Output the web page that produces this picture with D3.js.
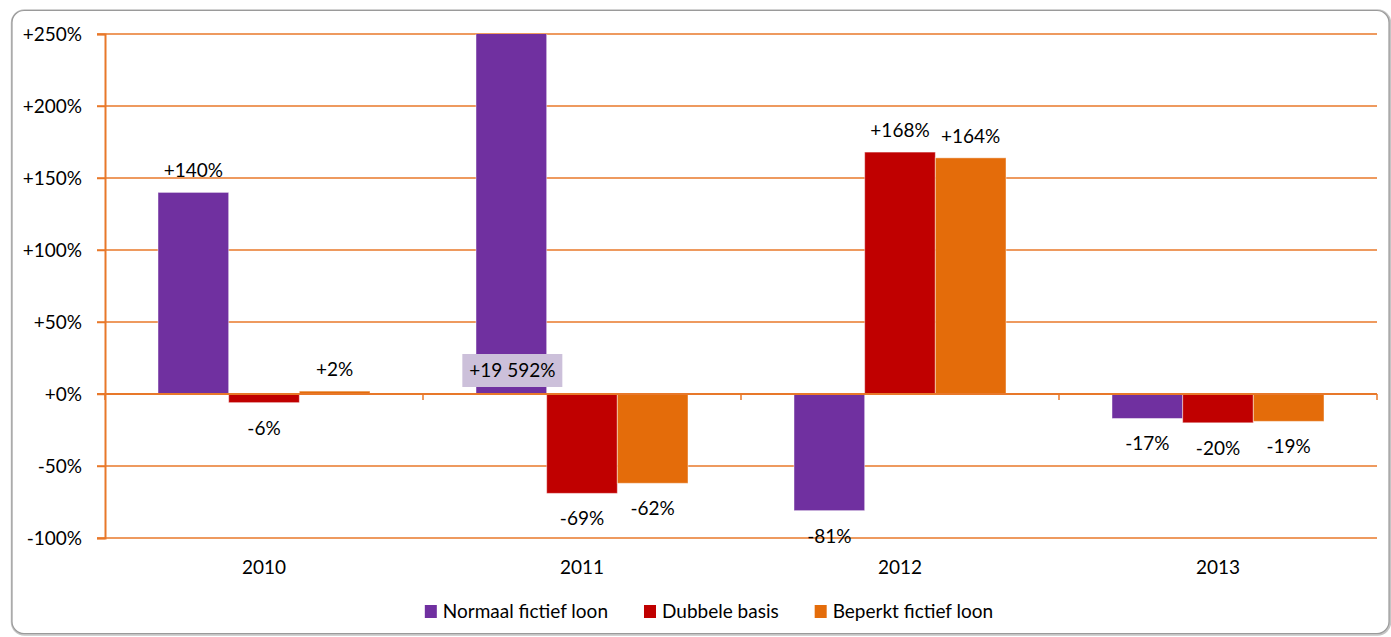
<!DOCTYPE html>
<html>
  <head>
    <style>
      body {
        margin: 0;
        background: #ffffff;
        font-family: "Lato", "Open Sans", sans-serif;
      }
    </style>
  </head>
<body>
  <div id="chart"></div>

  <script src="https://d3js.org/d3.v7.min.js"></script>
  <script>
    // values (fractions, 1 = 100%)
    var years = ["2010", "2011", "2012", "2013"];
    var seriesNames = ["Normaal fictief loon", "Dubbele basis", "Beperkt fictief loon"];
    var normaal = [1.40, 195.92, -0.81, -0.17];
    var dubbele = [-0.06, -0.69, 1.68, -0.20];
    var beperkt = [0.02, -0.62, 1.64, -0.19];
    var colors = ["#7030A0", "#C00000", "#E46C0A"];
    var yTicks = [-1, -0.5, 0, 0.5, 1, 1.5, 2, 2.5];

    var allSeries = [normaal, dubbele, beperkt];

    var W = 1391, H = 637;
    var margin = {top: 34, right: 14, bottom: 99, left: 105};
    var fs = "19px";

    var svg = d3.select("#chart")
      .append("svg")
      .attr("width", W)
      .attr("height", H);

    // frame
    svg.append("rect")
      .attr("x", 12.5).attr("y", 11)
      .attr("width", 1377).attr("height", 623)
      .attr("rx", 12)
      .style("fill", "none")
      .style("stroke", "#c4c4c4")
      .style("stroke-width", 3.5);
    svg.append("rect")
      .attr("x", 12).attr("y", 10.5)
      .attr("width", 1377).attr("height", 623)
      .attr("rx", 12)
      .style("fill", "#ffffff")
      .style("stroke", "#9a9a9a")
      .style("stroke-width", 1.2);

    var x0 = d3.scaleBand()
      .domain(years)
      .range([margin.left, W - margin.right])
      .padding(0);

    var x1 = d3.scaleBand()
      .domain(d3.range(seriesNames.length))
      .range([0, x0.bandwidth()])
      .paddingInner(0)
      .paddingOuter(0.75);

    var y = d3.scaleLinear()
      .domain([-1, 2.5])
      .range([H - margin.bottom, margin.top]);

    var fmt = function(v) {
      var p = Math.round(v * 100);
      var s = Math.abs(p) >= 1000 ? d3.format(",")(Math.abs(p)).replace(",", " ") : String(Math.abs(p));
      return (p < 0 ? "-" : "+") + s + "%";
    };

    var gridColor = "#E8782A";

    // gridlines
    svg.append("g")
      .selectAll("line")
      .data(yTicks)
      .enter()
      .append("line")
        .attr("x1", margin.left - 8)
        .attr("x2", W - margin.right)
        .attr("y1", function(d) { return y(d); })
        .attr("y2", function(d) { return y(d); })
        .style("stroke", gridColor)
        .style("stroke-width", 1.5);

    // y axis
    var yAxis = svg.append("g")
      .attr("transform", "translate(" + margin.left + ",0)")
      .call(d3.axisLeft(y)
        .tickValues(yTicks)
        .tickSize(8)
        .tickPadding(15)
        .tickFormat(function(d) { return (d < 0 ? "-" : "+") + Math.abs(Math.round(d * 100)) + "%"; }));
    yAxis.select(".domain").style("stroke", gridColor).style("stroke-width", 2);
    yAxis.selectAll(".tick line").style("stroke", gridColor).style("stroke-width", 1.5);
    yAxis.selectAll(".tick text")
      .style("font-family", "Lato, sans-serif")
      .style("font-size", fs)
      .style("fill", "#000");

    // clip region for the bars
    svg.append("clipPath")
      .attr("id", "plotclip")
      .append("rect")
      .attr("x", margin.left).attr("y", y(2.5))
      .attr("width", W - margin.right - margin.left)
      .attr("height", y(-1) - y(2.5));

    // bars
    var groups = svg.append("g")
      .attr("clip-path", "url(#plotclip)")
      .selectAll("g")
      .data(years)
      .enter()
      .append("g")
        .attr("transform", function(d) { return "translate(" + x0(d) + ",0)"; });

    groups.selectAll("rect")
      .data(function(d, i) { return allSeries.map(function(s, k) { return {k: k, v: s[i], year: d}; }); })
      .enter()
      .append("rect")
        .attr("x", function(d) { return x1(d.k); })
        .attr("width", x1.bandwidth())
        .attr("y", function(d) { return y(Math.max(0, Math.min(d.v, 2.6))); })
        .attr("height", function(d) { return Math.abs(y(Math.min(d.v, 2.6)) - y(0)); })
        .style("fill", function(d) { return colors[d.k]; })
        .style("stroke", "rgba(255,255,255,0.45)")
        .style("stroke-width", 1);

    // x axis on the zero line
    var xAxis = svg.append("g")
      .attr("transform", "translate(0," + y(0) + ")");
    xAxis.append("line")
      .attr("x1", margin.left - 8).attr("x2", W - margin.right)
      .style("stroke", gridColor).style("stroke-width", 2);
    xAxis.selectAll(".tk")
      .data(years.concat(["end"]))
      .enter()
      .append("line")
        .attr("class", "tk")
        .attr("x1", function(d, i) { return margin.left + i * x0.step(); })
        .attr("x2", function(d, i) { return margin.left + i * x0.step(); })
        .attr("y1", 0).attr("y2", 6)
        .style("stroke", gridColor).style("stroke-width", 1.5);

    // category labels
    svg.append("g")
      .selectAll("text")
      .data(years)
      .enter()
      .append("text")
        .attr("x", function(d) { return x0(d) + x0.bandwidth() / 2; })
        .attr("y", y(-1) + 36)
        .attr("text-anchor", "middle")
        .style("font-size", fs)
        .text(function(d) { return d; });

    // data labels
    var labels = [];
    years.forEach(function(yr, i) {
      allSeries.forEach(function(s, k) {
        labels.push({year: yr, k: k, v: s[i]});
      });
    });

    labels.forEach(function(d) {
      var cx = x0(d.year) + x1(d.k) + x1.bandwidth() / 2;
      if (d.v > 2.5) {
        // off-scale value, boxed label just above the zero line
        svg.append("rect")
          .attr("x", cx - 49).attr("y", y(0) - 40)
          .attr("width", 100).attr("height", 33)
          .style("fill", "#CCC0DA");
        svg.append("text")
          .attr("x", cx + 1)
          .attr("y", y(0) - 17)
          .attr("text-anchor", "middle")
          .style("font-size", fs)
          .text(fmt(d.v));
        return;
      }
      svg.append("text")
        .attr("x", cx)
        .attr("y", d.v >= 0 ? y(d.v) - 15 : y(d.v) + 32)
        .attr("text-anchor", "middle")
        .style("font-size", fs)
        .text(fmt(d.v));
    });

    // legend
    var legend = svg.append("g").attr("transform", "translate(0,611)");
    var lx = 0;
    seriesNames.forEach(function(name, k) {
      var g = legend.append("g").attr("transform", "translate(" + lx + ",0)");
      g.append("rect")
        .attr("x", 0).attr("y", -6)
        .attr("width", 12).attr("height", 13)
        .style("fill", colors[k]);
      var t = g.append("text")
        .attr("x", 18).attr("y", 7)
        .style("font-size", fs)
        .text(name);
      lx += 18 + t.node().getComputedTextLength() + 36;
    });
    var legendWidth = lx - 36;
    legend.attr("transform", "translate(" + (709 - legendWidth / 2) + ",611)");
  </script>
</body>
</html>
